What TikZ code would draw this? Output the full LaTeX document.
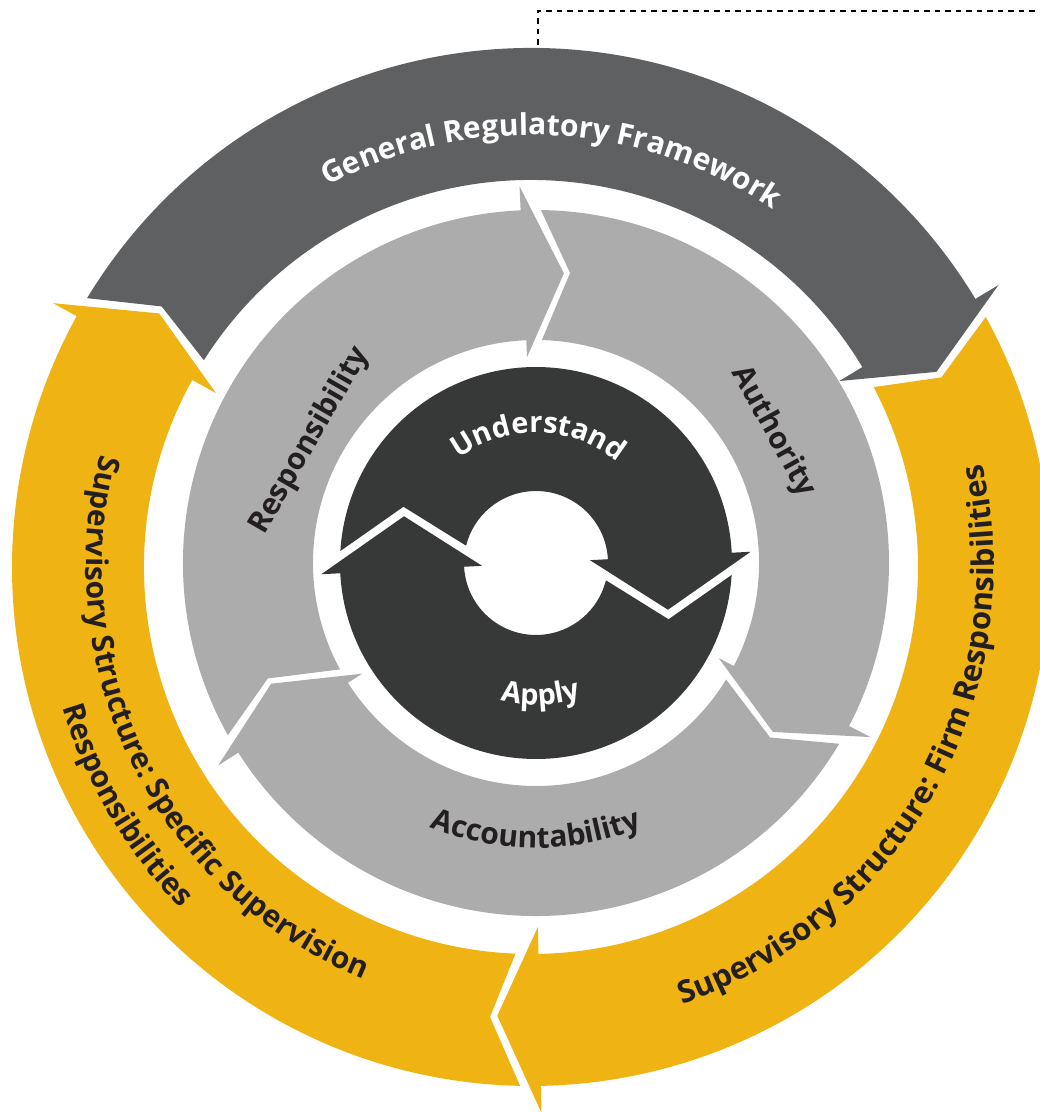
\documentclass[tikz,border=0pt]{standalone}
\usepackage{fontspec}
\setmainfont{Open Sans}
\newfontfamily\spacedsans[LetterSpace=6]{Open Sans}
\usepackage{xcolor}
\usetikzlibrary{decorations.text}

\definecolor{framegray}{RGB}{95,96,98}
\definecolor{rolegray}{RGB}{171,172,171}
\definecolor{coredark}{RGB}{55,57,56}
\definecolor{supyellow}{RGB}{239,179,19}
\definecolor{labelink}{RGB}{35,31,32}

% one arrow of a ring, clockwise from junction #2 to junction #3
\newcommand{\ringarrow}[3]{%
  \fill[#1] ({#2-\arNo}:\arOut) arc[start angle={#2-\arNo}, end angle={#3}, radius=\arOut]
    -- (#3:\arBo) -- ({#3-\arHa}:\arAp) -- (#3:\arBi) -- (#3:\arIn)
    arc[start angle={#3}, end angle={#2-\arNi}, radius=\arIn]
    -- ({#2-\arNa}:\arNr) -- cycle;}

% text bent round a ring: #1 font, #2 radius, #3 from, #4 to, #5 text
\newcommand{\ringtext}[5]{%
  \path[decorate, decoration={text along path, text align=center, text={|#1|#5}}]
    (#3:#2) arc[start angle=#3, end angle=#4, radius=#2];}

\newcommand{\bandfont}{\fontsize{30}{36}\selectfont\bfseries}
\newcommand{\widefont}{\fontsize{31}{37}\selectfont\bfseries}
\newcommand{\corefont}{\fontsize{29}{35}\selectfont\bfseries}

\begin{document}
\begin{tikzpicture}[x=1pt, y=1pt,
  rolelabel/.style={font=\bandfont, text=labelink, inner sep=0pt}]
\useasboundingbox (0,0) rectangle (1040,1112);
\clip (0,0) rectangle (1040,1112);

% outer ring
\begin{scope}[shift={(531,545)}]
  \def\arIn{387}\def\arOut{519}\def\arBi{360}\def\arBo{546}
  \def\arAp{450}\def\arHa{5.4}\def\arNo{2.3}\def\arNi{3.4}\def\arNa{6.3}\def\arNr{452}
  \ringarrow{framegray}{151.1}{31.1}
  \ringarrow{supyellow}{31.1}{-88.9}
  \ringarrow{supyellow}{-88.9}{-208.9}
  \ringtext{\bandfont\color{white}}{432}{127}{47}{General Regulatory Framework}
  \ringtext{\widefont\color{labelink}}{463}{-79}{21}{Supervisory Structure: Firm Responsibilities}
  \ringtext{\bandfont\color{labelink}}{445}{156.6}{256.6}{Supervisory Structure: Specific Supervision}
  \ringtext{\bandfont\color{labelink}}{489}{185.5}{235.5}{Responsibilities}
\end{scope}

% middle and inner rings
\begin{scope}[shift={(536,549)}]
  \def\arIn{223}\def\arOut{353}\def\arBi{206}\def\arBo{377}
  \def\arAp{291}\def\arHa{8}\def\arNo{3.3}\def\arNi{4}\def\arNa{9.2}\def\arNr{292}
  \ringarrow{rolegray}{212.5}{92.5}
  \ringarrow{rolegray}{92.5}{-27.5}
  \ringarrow{rolegray}{-27.5}{-147.5}
  \node[rolelabel, rotate=60] (responsibility) at (151.6:257) {Responsibility};
  \node[rolelabel, rotate=-61] (authority) at (29:271) {Authority};
  \ringtext{\bandfont\color{labelink}}{285}{230}{310}{Accountability}

  \def\arIn{72}\def\arOut{196}\def\arBi{54}\def\arBo{215}
  \def\arAp{140}\def\arHa{22.5}\def\arNo{6.5}\def\arNi{16.9}\def\arNa{26}\def\arNr{144}
  \ringarrow{coredark}{183}{3}
  \ringarrow{coredark}{3}{-177}
  \ringtext{\spacedsans\corefont\color{white}}{130}{148.8}{28.8}{Understand}
  \ringtext{\corefont\color{white}}{142}{232}{312}{Apply}
\end{scope}

% dotted leader at the top
\coordinate (leadfoot) at (538,1067);
\coordinate (leadend) at (1040,1101);
\draw[line width=2pt, dash pattern=on 5.5pt off 5pt] (leadfoot) |- (leadend);
\end{tikzpicture}
\end{document}
